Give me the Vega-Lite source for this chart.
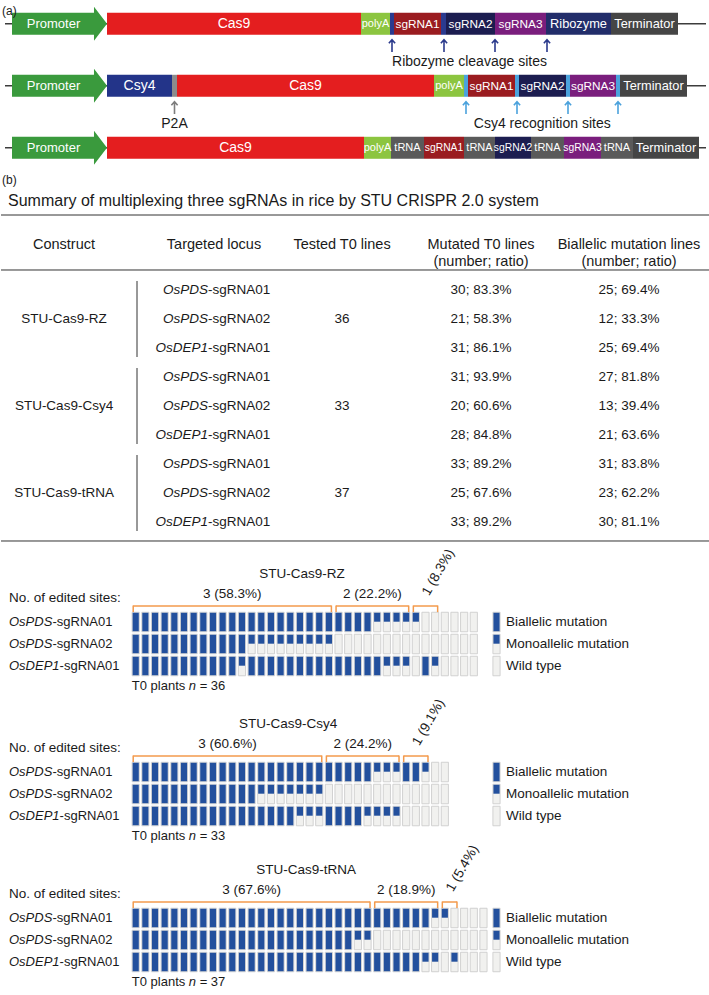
{
"$schema": "https://vega.github.io/schema/vega-lite/v6.json",
"padding": 0,
"spacing": 0,
"bounds": "flush",
"background": "white",
"config": {"view": {"stroke": null}, "text": {"font": "Liberation Sans", "fontSize": 13, "color": "#1a1a1a", "baseline": "middle"}},
"datasets": {
"backbones": [{"construct":1,"start":4,"end":705},{"construct":2,"start":4,"end":705},{"construct":3,"start":4,"end":705}],
"parts": [
{"construct":1,"id":"1-promoter","part":"Promoter","label":"Promoter","start":11,"end":106},
{"construct":1,"id":"1-cas9","part":"Cas9","label":"Cas9","start":106,"end":360},
{"construct":1,"id":"1-polyA","part":"polyA","label":"polyA","start":360,"end":389},
{"construct":1,"id":"1-s1","part":"ribosite","label":"","start":389,"end":393},
{"construct":1,"id":"1-sg1","part":"sgRNA1","label":"sgRNA1","start":393,"end":440},
{"construct":1,"id":"1-s2","part":"ribosite","label":"","start":440,"end":445},
{"construct":1,"id":"1-sg2","part":"sgRNA2","label":"sgRNA2","start":445,"end":494},
{"construct":1,"id":"1-sg3","part":"sgRNA3","label":"sgRNA3","start":494,"end":545},
{"construct":1,"id":"1-rz","part":"Ribozyme","label":"Ribozyme","start":545,"end":610},
{"construct":1,"id":"1-term","part":"Terminator","label":"Terminator","start":610,"end":677},
{"construct":2,"id":"2-promoter","part":"Promoter","label":"Promoter","start":11,"end":106},
{"construct":2,"id":"2-csy4","part":"Csy4","label":"Csy4","start":106,"end":171},
{"construct":2,"id":"2-p2a","part":"P2A","label":"","start":171,"end":176},
{"construct":2,"id":"2-cas9","part":"Cas9","label":"Cas9","start":176,"end":433},
{"construct":2,"id":"2-polyA","part":"polyA","label":"polyA","start":433,"end":463},
{"construct":2,"id":"2-s1","part":"csysite","label":"","start":463,"end":467},
{"construct":2,"id":"2-sg1","part":"sgRNA1","label":"sgRNA1","start":467,"end":514},
{"construct":2,"id":"2-s2","part":"csysite","label":"","start":514,"end":518},
{"construct":2,"id":"2-sg2","part":"sgRNA2","label":"sgRNA2","start":518,"end":565},
{"construct":2,"id":"2-s3","part":"csysite","label":"","start":565,"end":569},
{"construct":2,"id":"2-sg3","part":"sgRNA3","label":"sgRNA3","start":569,"end":615},
{"construct":2,"id":"2-s4","part":"csysite","label":"","start":615,"end":619},
{"construct":2,"id":"2-term","part":"Terminator","label":"Terminator","start":619,"end":686},
{"construct":3,"id":"3-promoter","part":"Promoter","label":"Promoter","start":11,"end":106},
{"construct":3,"id":"3-cas9","part":"Cas9","label":"Cas9","start":106,"end":363},
{"construct":3,"id":"3-polyA","part":"polyA","label":"polyA","start":363,"end":390},
{"construct":3,"id":"3-t1","part":"tRNA","label":"tRNA","start":390,"end":423},
{"construct":3,"id":"3-sg1","part":"sgRNA1","label":"sgRNA1","start":423,"end":463},
{"construct":3,"id":"3-t2","part":"tRNA","label":"tRNA","start":463,"end":494},
{"construct":3,"id":"3-sg2","part":"sgRNA2","label":"sgRNA2","start":494,"end":530},
{"construct":3,"id":"3-t3","part":"tRNA","label":"tRNA","start":530,"end":563},
{"construct":3,"id":"3-sg3","part":"sgRNA3","label":"sgRNA3","start":563,"end":600},
{"construct":3,"id":"3-t4","part":"tRNA","label":"tRNA","start":600,"end":632},
{"construct":3,"id":"3-term","part":"Terminator","label":"Terminator","start":632,"end":698}
],
"sites": [
{"construct":1,"kind":"ribozyme","label":"Ribozyme cleavage sites","pos":391},
{"construct":1,"kind":"ribozyme","label":"Ribozyme cleavage sites","pos":443},
{"construct":1,"kind":"ribozyme","label":"Ribozyme cleavage sites","pos":494},
{"construct":1,"kind":"ribozyme","label":"Ribozyme cleavage sites","pos":546},
{"construct":2,"kind":"csy4","label":"Csy4 recognition sites","pos":465},
{"construct":2,"kind":"csy4","label":"Csy4 recognition sites","pos":516},
{"construct":2,"kind":"csy4","label":"Csy4 recognition sites","pos":567},
{"construct":2,"kind":"csy4","label":"Csy4 recognition sites","pos":617},
{"construct":2,"kind":"p2a","label":"P2A","pos":173.5}
],
"table": [
{"construct":"STU-Cas9-RZ","tested":36,"row":1,"gene":"OsPDS","guide":"-sgRNA01","mutated":"30; 83.3%","biallelic":"25; 69.4%"},
{"construct":"STU-Cas9-RZ","tested":36,"row":2,"gene":"OsPDS","guide":"-sgRNA02","mutated":"21; 58.3%","biallelic":"12; 33.3%"},
{"construct":"STU-Cas9-RZ","tested":36,"row":3,"gene":"OsDEP1","guide":"-sgRNA01","mutated":"31; 86.1%","biallelic":"25; 69.4%"},
{"construct":"STU-Cas9-Csy4","tested":33,"row":4,"gene":"OsPDS","guide":"-sgRNA01","mutated":"31; 93.9%","biallelic":"27; 81.8%"},
{"construct":"STU-Cas9-Csy4","tested":33,"row":5,"gene":"OsPDS","guide":"-sgRNA02","mutated":"20; 60.6%","biallelic":"13; 39.4%"},
{"construct":"STU-Cas9-Csy4","tested":33,"row":6,"gene":"OsDEP1","guide":"-sgRNA01","mutated":"28; 84.8%","biallelic":"21; 63.6%"},
{"construct":"STU-Cas9-tRNA","tested":37,"row":7,"gene":"OsPDS","guide":"-sgRNA01","mutated":"33; 89.2%","biallelic":"31; 83.8%"},
{"construct":"STU-Cas9-tRNA","tested":37,"row":8,"gene":"OsPDS","guide":"-sgRNA02","mutated":"25; 67.6%","biallelic":"23; 62.2%"},
{"construct":"STU-Cas9-tRNA","tested":37,"row":9,"gene":"OsDEP1","guide":"-sgRNA01","mutated":"33; 89.2%","biallelic":"30; 81.1%"}
],
"constructs": [
{"construct":"RZ","title":"STU-Cas9-RZ","plants":36},
{"construct":"Csy4","title":"STU-Cas9-Csy4","plants":33},
{"construct":"tRNA","title":"STU-Cas9-tRNA","plants":37}
],
"loci": [
{"locus":0,"gene":"OsPDS","guide":"-sgRNA01"},
{"locus":1,"gene":"OsPDS","guide":"-sgRNA02"},
{"locus":2,"gene":"OsDEP1","guide":"-sgRNA01"}
],
"legend": [
{"rank":0,"status":"B","label":"Biallelic mutation"},
{"rank":1,"status":"M","label":"Monoallelic mutation"},
{"rank":2,"status":"W","label":"Wild type"}
],
"brackets": [
{"id":"RZ3","construct":"RZ","sites":3,"label":"3 (58.3%)","start":0,"end":20},
{"id":"RZ2","construct":"RZ","sites":2,"label":"2 (22.2%)","start":21,"end":28},
{"id":"RZ1","construct":"RZ","sites":1,"label":"1 (8.3%)","start":29,"end":31},
{"id":"C3","construct":"Csy4","sites":3,"label":"3 (60.6%)","start":0,"end":19},
{"id":"C2","construct":"Csy4","sites":2,"label":"2 (24.2%)","start":20,"end":27},
{"id":"C1","construct":"Csy4","sites":1,"label":"1 (9.1%)","start":28,"end":30},
{"id":"T3","construct":"tRNA","sites":3,"label":"3 (67.6%)","start":0,"end":24},
{"id":"T2","construct":"tRNA","sites":2,"label":"2 (18.9%)","start":25,"end":31},
{"id":"T1","construct":"tRNA","sites":1,"label":"1 (5.4%)","start":32,"end":33}
],
"cells": [
{"construct":"RZ","locus":0,"plant":0,"status":"B"},{"construct":"RZ","locus":0,"plant":1,"status":"B"},{"construct":"RZ","locus":0,"plant":2,"status":"B"},{"construct":"RZ","locus":0,"plant":3,"status":"B"},{"construct":"RZ","locus":0,"plant":4,"status":"B"},{"construct":"RZ","locus":0,"plant":5,"status":"B"},{"construct":"RZ","locus":0,"plant":6,"status":"B"},{"construct":"RZ","locus":0,"plant":7,"status":"B"},{"construct":"RZ","locus":0,"plant":8,"status":"B"},{"construct":"RZ","locus":0,"plant":9,"status":"B"},
{"construct":"RZ","locus":0,"plant":10,"status":"B"},{"construct":"RZ","locus":0,"plant":11,"status":"B"},{"construct":"RZ","locus":0,"plant":12,"status":"B"},{"construct":"RZ","locus":0,"plant":13,"status":"B"},{"construct":"RZ","locus":0,"plant":14,"status":"B"},{"construct":"RZ","locus":0,"plant":15,"status":"B"},{"construct":"RZ","locus":0,"plant":16,"status":"B"},{"construct":"RZ","locus":0,"plant":17,"status":"B"},{"construct":"RZ","locus":0,"plant":18,"status":"B"},{"construct":"RZ","locus":0,"plant":19,"status":"B"},
{"construct":"RZ","locus":0,"plant":20,"status":"B"},{"construct":"RZ","locus":0,"plant":21,"status":"B"},{"construct":"RZ","locus":0,"plant":22,"status":"B"},{"construct":"RZ","locus":0,"plant":23,"status":"B"},{"construct":"RZ","locus":0,"plant":24,"status":"B"},{"construct":"RZ","locus":0,"plant":25,"status":"M"},{"construct":"RZ","locus":0,"plant":26,"status":"M"},{"construct":"RZ","locus":0,"plant":27,"status":"M"},{"construct":"RZ","locus":0,"plant":28,"status":"M"},{"construct":"RZ","locus":0,"plant":29,"status":"M"},
{"construct":"RZ","locus":0,"plant":30,"status":"W"},{"construct":"RZ","locus":0,"plant":31,"status":"W"},{"construct":"RZ","locus":0,"plant":32,"status":"W"},{"construct":"RZ","locus":0,"plant":33,"status":"W"},{"construct":"RZ","locus":0,"plant":34,"status":"W"},{"construct":"RZ","locus":0,"plant":35,"status":"W"},
{"construct":"RZ","locus":1,"plant":0,"status":"B"},{"construct":"RZ","locus":1,"plant":1,"status":"B"},{"construct":"RZ","locus":1,"plant":2,"status":"B"},{"construct":"RZ","locus":1,"plant":3,"status":"B"},{"construct":"RZ","locus":1,"plant":4,"status":"B"},{"construct":"RZ","locus":1,"plant":5,"status":"B"},{"construct":"RZ","locus":1,"plant":6,"status":"B"},{"construct":"RZ","locus":1,"plant":7,"status":"B"},{"construct":"RZ","locus":1,"plant":8,"status":"B"},{"construct":"RZ","locus":1,"plant":9,"status":"B"},
{"construct":"RZ","locus":1,"plant":10,"status":"B"},{"construct":"RZ","locus":1,"plant":11,"status":"B"},{"construct":"RZ","locus":1,"plant":12,"status":"M"},{"construct":"RZ","locus":1,"plant":13,"status":"M"},{"construct":"RZ","locus":1,"plant":14,"status":"M"},{"construct":"RZ","locus":1,"plant":15,"status":"M"},{"construct":"RZ","locus":1,"plant":16,"status":"M"},{"construct":"RZ","locus":1,"plant":17,"status":"M"},{"construct":"RZ","locus":1,"plant":18,"status":"M"},{"construct":"RZ","locus":1,"plant":19,"status":"M"},
{"construct":"RZ","locus":1,"plant":20,"status":"M"},{"construct":"RZ","locus":1,"plant":21,"status":"W"},{"construct":"RZ","locus":1,"plant":22,"status":"W"},{"construct":"RZ","locus":1,"plant":23,"status":"W"},{"construct":"RZ","locus":1,"plant":24,"status":"W"},{"construct":"RZ","locus":1,"plant":25,"status":"W"},{"construct":"RZ","locus":1,"plant":26,"status":"W"},{"construct":"RZ","locus":1,"plant":27,"status":"W"},{"construct":"RZ","locus":1,"plant":28,"status":"W"},{"construct":"RZ","locus":1,"plant":29,"status":"W"},
{"construct":"RZ","locus":1,"plant":30,"status":"W"},{"construct":"RZ","locus":1,"plant":31,"status":"W"},{"construct":"RZ","locus":1,"plant":32,"status":"W"},{"construct":"RZ","locus":1,"plant":33,"status":"W"},{"construct":"RZ","locus":1,"plant":34,"status":"W"},{"construct":"RZ","locus":1,"plant":35,"status":"W"},
{"construct":"RZ","locus":2,"plant":0,"status":"B"},{"construct":"RZ","locus":2,"plant":1,"status":"B"},{"construct":"RZ","locus":2,"plant":2,"status":"B"},{"construct":"RZ","locus":2,"plant":3,"status":"B"},{"construct":"RZ","locus":2,"plant":4,"status":"B"},{"construct":"RZ","locus":2,"plant":5,"status":"B"},{"construct":"RZ","locus":2,"plant":6,"status":"B"},{"construct":"RZ","locus":2,"plant":7,"status":"B"},{"construct":"RZ","locus":2,"plant":8,"status":"B"},{"construct":"RZ","locus":2,"plant":9,"status":"B"},
{"construct":"RZ","locus":2,"plant":10,"status":"B"},{"construct":"RZ","locus":2,"plant":11,"status":"M"},{"construct":"RZ","locus":2,"plant":12,"status":"B"},{"construct":"RZ","locus":2,"plant":13,"status":"B"},{"construct":"RZ","locus":2,"plant":14,"status":"B"},{"construct":"RZ","locus":2,"plant":15,"status":"B"},{"construct":"RZ","locus":2,"plant":16,"status":"B"},{"construct":"RZ","locus":2,"plant":17,"status":"B"},{"construct":"RZ","locus":2,"plant":18,"status":"B"},{"construct":"RZ","locus":2,"plant":19,"status":"B"},
{"construct":"RZ","locus":2,"plant":20,"status":"B"},{"construct":"RZ","locus":2,"plant":21,"status":"B"},{"construct":"RZ","locus":2,"plant":22,"status":"B"},{"construct":"RZ","locus":2,"plant":23,"status":"B"},{"construct":"RZ","locus":2,"plant":24,"status":"B"},{"construct":"RZ","locus":2,"plant":25,"status":"B"},{"construct":"RZ","locus":2,"plant":26,"status":"M"},{"construct":"RZ","locus":2,"plant":27,"status":"M"},{"construct":"RZ","locus":2,"plant":28,"status":"M"},{"construct":"RZ","locus":2,"plant":29,"status":"W"},
{"construct":"RZ","locus":2,"plant":30,"status":"B"},{"construct":"RZ","locus":2,"plant":31,"status":"M"},{"construct":"RZ","locus":2,"plant":32,"status":"W"},{"construct":"RZ","locus":2,"plant":33,"status":"W"},{"construct":"RZ","locus":2,"plant":34,"status":"W"},{"construct":"RZ","locus":2,"plant":35,"status":"W"},
{"construct":"Csy4","locus":0,"plant":0,"status":"B"},{"construct":"Csy4","locus":0,"plant":1,"status":"B"},{"construct":"Csy4","locus":0,"plant":2,"status":"B"},{"construct":"Csy4","locus":0,"plant":3,"status":"B"},{"construct":"Csy4","locus":0,"plant":4,"status":"B"},{"construct":"Csy4","locus":0,"plant":5,"status":"B"},{"construct":"Csy4","locus":0,"plant":6,"status":"B"},{"construct":"Csy4","locus":0,"plant":7,"status":"B"},{"construct":"Csy4","locus":0,"plant":8,"status":"B"},{"construct":"Csy4","locus":0,"plant":9,"status":"B"},
{"construct":"Csy4","locus":0,"plant":10,"status":"B"},{"construct":"Csy4","locus":0,"plant":11,"status":"B"},{"construct":"Csy4","locus":0,"plant":12,"status":"B"},{"construct":"Csy4","locus":0,"plant":13,"status":"B"},{"construct":"Csy4","locus":0,"plant":14,"status":"B"},{"construct":"Csy4","locus":0,"plant":15,"status":"B"},{"construct":"Csy4","locus":0,"plant":16,"status":"B"},{"construct":"Csy4","locus":0,"plant":17,"status":"B"},{"construct":"Csy4","locus":0,"plant":18,"status":"B"},{"construct":"Csy4","locus":0,"plant":19,"status":"B"},
{"construct":"Csy4","locus":0,"plant":20,"status":"B"},{"construct":"Csy4","locus":0,"plant":21,"status":"B"},{"construct":"Csy4","locus":0,"plant":22,"status":"B"},{"construct":"Csy4","locus":0,"plant":23,"status":"B"},{"construct":"Csy4","locus":0,"plant":24,"status":"B"},{"construct":"Csy4","locus":0,"plant":25,"status":"M"},{"construct":"Csy4","locus":0,"plant":26,"status":"M"},{"construct":"Csy4","locus":0,"plant":27,"status":"M"},{"construct":"Csy4","locus":0,"plant":28,"status":"B"},{"construct":"Csy4","locus":0,"plant":29,"status":"B"},
{"construct":"Csy4","locus":0,"plant":30,"status":"M"},{"construct":"Csy4","locus":0,"plant":31,"status":"W"},{"construct":"Csy4","locus":0,"plant":32,"status":"W"},
{"construct":"Csy4","locus":1,"plant":0,"status":"B"},{"construct":"Csy4","locus":1,"plant":1,"status":"B"},{"construct":"Csy4","locus":1,"plant":2,"status":"B"},{"construct":"Csy4","locus":1,"plant":3,"status":"B"},{"construct":"Csy4","locus":1,"plant":4,"status":"B"},{"construct":"Csy4","locus":1,"plant":5,"status":"B"},{"construct":"Csy4","locus":1,"plant":6,"status":"B"},{"construct":"Csy4","locus":1,"plant":7,"status":"B"},{"construct":"Csy4","locus":1,"plant":8,"status":"B"},{"construct":"Csy4","locus":1,"plant":9,"status":"B"},
{"construct":"Csy4","locus":1,"plant":10,"status":"B"},{"construct":"Csy4","locus":1,"plant":11,"status":"B"},{"construct":"Csy4","locus":1,"plant":12,"status":"B"},{"construct":"Csy4","locus":1,"plant":13,"status":"M"},{"construct":"Csy4","locus":1,"plant":14,"status":"M"},{"construct":"Csy4","locus":1,"plant":15,"status":"M"},{"construct":"Csy4","locus":1,"plant":16,"status":"M"},{"construct":"Csy4","locus":1,"plant":17,"status":"M"},{"construct":"Csy4","locus":1,"plant":18,"status":"M"},{"construct":"Csy4","locus":1,"plant":19,"status":"M"},
{"construct":"Csy4","locus":1,"plant":20,"status":"W"},{"construct":"Csy4","locus":1,"plant":21,"status":"W"},{"construct":"Csy4","locus":1,"plant":22,"status":"W"},{"construct":"Csy4","locus":1,"plant":23,"status":"W"},{"construct":"Csy4","locus":1,"plant":24,"status":"W"},{"construct":"Csy4","locus":1,"plant":25,"status":"W"},{"construct":"Csy4","locus":1,"plant":26,"status":"W"},{"construct":"Csy4","locus":1,"plant":27,"status":"W"},{"construct":"Csy4","locus":1,"plant":28,"status":"W"},{"construct":"Csy4","locus":1,"plant":29,"status":"W"},
{"construct":"Csy4","locus":1,"plant":30,"status":"W"},{"construct":"Csy4","locus":1,"plant":31,"status":"W"},{"construct":"Csy4","locus":1,"plant":32,"status":"W"},
{"construct":"Csy4","locus":2,"plant":0,"status":"B"},{"construct":"Csy4","locus":2,"plant":1,"status":"B"},{"construct":"Csy4","locus":2,"plant":2,"status":"B"},{"construct":"Csy4","locus":2,"plant":3,"status":"B"},{"construct":"Csy4","locus":2,"plant":4,"status":"B"},{"construct":"Csy4","locus":2,"plant":5,"status":"B"},{"construct":"Csy4","locus":2,"plant":6,"status":"B"},{"construct":"Csy4","locus":2,"plant":7,"status":"B"},{"construct":"Csy4","locus":2,"plant":8,"status":"B"},{"construct":"Csy4","locus":2,"plant":9,"status":"B"},
{"construct":"Csy4","locus":2,"plant":10,"status":"B"},{"construct":"Csy4","locus":2,"plant":11,"status":"B"},{"construct":"Csy4","locus":2,"plant":12,"status":"B"},{"construct":"Csy4","locus":2,"plant":13,"status":"B"},{"construct":"Csy4","locus":2,"plant":14,"status":"B"},{"construct":"Csy4","locus":2,"plant":15,"status":"B"},{"construct":"Csy4","locus":2,"plant":16,"status":"B"},{"construct":"Csy4","locus":2,"plant":17,"status":"M"},{"construct":"Csy4","locus":2,"plant":18,"status":"M"},{"construct":"Csy4","locus":2,"plant":19,"status":"M"},
{"construct":"Csy4","locus":2,"plant":20,"status":"B"},{"construct":"Csy4","locus":2,"plant":21,"status":"B"},{"construct":"Csy4","locus":2,"plant":22,"status":"B"},{"construct":"Csy4","locus":2,"plant":23,"status":"B"},{"construct":"Csy4","locus":2,"plant":24,"status":"M"},{"construct":"Csy4","locus":2,"plant":25,"status":"M"},{"construct":"Csy4","locus":2,"plant":26,"status":"M"},{"construct":"Csy4","locus":2,"plant":27,"status":"M"},{"construct":"Csy4","locus":2,"plant":28,"status":"W"},{"construct":"Csy4","locus":2,"plant":29,"status":"W"},
{"construct":"Csy4","locus":2,"plant":30,"status":"W"},{"construct":"Csy4","locus":2,"plant":31,"status":"W"},{"construct":"Csy4","locus":2,"plant":32,"status":"W"},
{"construct":"tRNA","locus":0,"plant":0,"status":"B"},{"construct":"tRNA","locus":0,"plant":1,"status":"B"},{"construct":"tRNA","locus":0,"plant":2,"status":"B"},{"construct":"tRNA","locus":0,"plant":3,"status":"B"},{"construct":"tRNA","locus":0,"plant":4,"status":"B"},{"construct":"tRNA","locus":0,"plant":5,"status":"B"},{"construct":"tRNA","locus":0,"plant":6,"status":"B"},{"construct":"tRNA","locus":0,"plant":7,"status":"B"},{"construct":"tRNA","locus":0,"plant":8,"status":"B"},{"construct":"tRNA","locus":0,"plant":9,"status":"B"},
{"construct":"tRNA","locus":0,"plant":10,"status":"B"},{"construct":"tRNA","locus":0,"plant":11,"status":"B"},{"construct":"tRNA","locus":0,"plant":12,"status":"B"},{"construct":"tRNA","locus":0,"plant":13,"status":"B"},{"construct":"tRNA","locus":0,"plant":14,"status":"B"},{"construct":"tRNA","locus":0,"plant":15,"status":"B"},{"construct":"tRNA","locus":0,"plant":16,"status":"B"},{"construct":"tRNA","locus":0,"plant":17,"status":"B"},{"construct":"tRNA","locus":0,"plant":18,"status":"B"},{"construct":"tRNA","locus":0,"plant":19,"status":"B"},
{"construct":"tRNA","locus":0,"plant":20,"status":"B"},{"construct":"tRNA","locus":0,"plant":21,"status":"B"},{"construct":"tRNA","locus":0,"plant":22,"status":"B"},{"construct":"tRNA","locus":0,"plant":23,"status":"B"},{"construct":"tRNA","locus":0,"plant":24,"status":"B"},{"construct":"tRNA","locus":0,"plant":25,"status":"B"},{"construct":"tRNA","locus":0,"plant":26,"status":"B"},{"construct":"tRNA","locus":0,"plant":27,"status":"B"},{"construct":"tRNA","locus":0,"plant":28,"status":"B"},{"construct":"tRNA","locus":0,"plant":29,"status":"B"},
{"construct":"tRNA","locus":0,"plant":30,"status":"B"},{"construct":"tRNA","locus":0,"plant":31,"status":"M"},{"construct":"tRNA","locus":0,"plant":32,"status":"M"},{"construct":"tRNA","locus":0,"plant":33,"status":"W"},{"construct":"tRNA","locus":0,"plant":34,"status":"W"},{"construct":"tRNA","locus":0,"plant":35,"status":"W"},{"construct":"tRNA","locus":0,"plant":36,"status":"W"},
{"construct":"tRNA","locus":1,"plant":0,"status":"B"},{"construct":"tRNA","locus":1,"plant":1,"status":"B"},{"construct":"tRNA","locus":1,"plant":2,"status":"B"},{"construct":"tRNA","locus":1,"plant":3,"status":"B"},{"construct":"tRNA","locus":1,"plant":4,"status":"B"},{"construct":"tRNA","locus":1,"plant":5,"status":"B"},{"construct":"tRNA","locus":1,"plant":6,"status":"B"},{"construct":"tRNA","locus":1,"plant":7,"status":"B"},{"construct":"tRNA","locus":1,"plant":8,"status":"B"},{"construct":"tRNA","locus":1,"plant":9,"status":"B"},
{"construct":"tRNA","locus":1,"plant":10,"status":"B"},{"construct":"tRNA","locus":1,"plant":11,"status":"B"},{"construct":"tRNA","locus":1,"plant":12,"status":"B"},{"construct":"tRNA","locus":1,"plant":13,"status":"B"},{"construct":"tRNA","locus":1,"plant":14,"status":"B"},{"construct":"tRNA","locus":1,"plant":15,"status":"B"},{"construct":"tRNA","locus":1,"plant":16,"status":"B"},{"construct":"tRNA","locus":1,"plant":17,"status":"B"},{"construct":"tRNA","locus":1,"plant":18,"status":"B"},{"construct":"tRNA","locus":1,"plant":19,"status":"B"},
{"construct":"tRNA","locus":1,"plant":20,"status":"B"},{"construct":"tRNA","locus":1,"plant":21,"status":"B"},{"construct":"tRNA","locus":1,"plant":22,"status":"B"},{"construct":"tRNA","locus":1,"plant":23,"status":"M"},{"construct":"tRNA","locus":1,"plant":24,"status":"M"},{"construct":"tRNA","locus":1,"plant":25,"status":"W"},{"construct":"tRNA","locus":1,"plant":26,"status":"W"},{"construct":"tRNA","locus":1,"plant":27,"status":"W"},{"construct":"tRNA","locus":1,"plant":28,"status":"W"},{"construct":"tRNA","locus":1,"plant":29,"status":"W"},
{"construct":"tRNA","locus":1,"plant":30,"status":"W"},{"construct":"tRNA","locus":1,"plant":31,"status":"W"},{"construct":"tRNA","locus":1,"plant":32,"status":"W"},{"construct":"tRNA","locus":1,"plant":33,"status":"W"},{"construct":"tRNA","locus":1,"plant":34,"status":"W"},{"construct":"tRNA","locus":1,"plant":35,"status":"W"},{"construct":"tRNA","locus":1,"plant":36,"status":"W"},
{"construct":"tRNA","locus":2,"plant":0,"status":"B"},{"construct":"tRNA","locus":2,"plant":1,"status":"B"},{"construct":"tRNA","locus":2,"plant":2,"status":"B"},{"construct":"tRNA","locus":2,"plant":3,"status":"B"},{"construct":"tRNA","locus":2,"plant":4,"status":"B"},{"construct":"tRNA","locus":2,"plant":5,"status":"B"},{"construct":"tRNA","locus":2,"plant":6,"status":"B"},{"construct":"tRNA","locus":2,"plant":7,"status":"B"},{"construct":"tRNA","locus":2,"plant":8,"status":"B"},{"construct":"tRNA","locus":2,"plant":9,"status":"B"},
{"construct":"tRNA","locus":2,"plant":10,"status":"B"},{"construct":"tRNA","locus":2,"plant":11,"status":"B"},{"construct":"tRNA","locus":2,"plant":12,"status":"B"},{"construct":"tRNA","locus":2,"plant":13,"status":"B"},{"construct":"tRNA","locus":2,"plant":14,"status":"B"},{"construct":"tRNA","locus":2,"plant":15,"status":"B"},{"construct":"tRNA","locus":2,"plant":16,"status":"B"},{"construct":"tRNA","locus":2,"plant":17,"status":"B"},{"construct":"tRNA","locus":2,"plant":18,"status":"B"},{"construct":"tRNA","locus":2,"plant":19,"status":"B"},
{"construct":"tRNA","locus":2,"plant":20,"status":"B"},{"construct":"tRNA","locus":2,"plant":21,"status":"B"},{"construct":"tRNA","locus":2,"plant":22,"status":"B"},{"construct":"tRNA","locus":2,"plant":23,"status":"B"},{"construct":"tRNA","locus":2,"plant":24,"status":"B"},{"construct":"tRNA","locus":2,"plant":25,"status":"B"},{"construct":"tRNA","locus":2,"plant":26,"status":"B"},{"construct":"tRNA","locus":2,"plant":27,"status":"B"},{"construct":"tRNA","locus":2,"plant":28,"status":"B"},{"construct":"tRNA","locus":2,"plant":29,"status":"B"},
{"construct":"tRNA","locus":2,"plant":30,"status":"M"},{"construct":"tRNA","locus":2,"plant":31,"status":"M"},{"construct":"tRNA","locus":2,"plant":32,"status":"W"},{"construct":"tRNA","locus":2,"plant":33,"status":"M"},{"construct":"tRNA","locus":2,"plant":34,"status":"W"},{"construct":"tRNA","locus":2,"plant":35,"status":"W"},{"construct":"tRNA","locus":2,"plant":36,"status":"W"}
]
},
"vconcat": [
{
"width": 709, "height": 165,
"layer": [
{"data": {"name": "backbones"}, "mark": {"type": "rule", "stroke": "#3c3c3c", "strokeWidth": 1.5},
 "encoding": {"x": {"field": "start", "type": "quantitative", "scale": {"domain": [0, 709], "nice": false, "zero": false}, "axis": null}, "x2": {"field": "end"},
  "y": {"field": "construct", "type": "quantitative", "scale": {"domain": [0.697, 3.197], "nice": false, "zero": false, "reverse": true}, "axis": null}}},
{"data": {"name": "parts"}, "transform": [{"filter": "datum.part !== 'Promoter'"}], "mark": {"type": "bar", "orient": "horizontal", "height": 22},
 "encoding": {"x": {"field": "start", "type": "quantitative", "scale": {"domain": [0, 709], "nice": false, "zero": false}, "axis": null}, "x2": {"field": "end"},
  "y": {"field": "construct", "type": "quantitative", "scale": {"domain": [0.697, 3.197], "nice": false, "zero": false, "reverse": true}, "axis": null},
  "color": {"field": "part", "type": "nominal", "legend": null, "scale": {"domain": ["Cas9","Csy4","P2A","polyA","sgRNA1","sgRNA2","sgRNA3","Ribozyme","ribosite","csysite","tRNA","Terminator"], "range": ["#e41e1f","#233489","#8c8c8c","#8cc540","#9a1c20","#1c1d50","#7a1e7d","#222d6a","#2a3a8f","#4ba2dc","#5a5a5a","#454545"]}}}},
{"data": {"name": "parts"}, "transform": [{"filter": "datum.part === 'Promoter'"}, {"fold": ["start", "end"], "as": ["edge", "pos"]}],
 "mark": {"type": "point", "filled": true, "opacity": 1, "fill": "#3a9a3d", "strokeWidth": 0, "size": 9025, "shape": "M -1 -0.2316 L 0.726 -0.2316 L 0.726 -0.358 L 1 0 L 0.726 0.358 L 0.726 0.2316 L -1 0.2316 Z"},
 "encoding": {"x": {"field": "pos", "aggregate": "mean", "type": "quantitative", "scale": {"domain": [0, 709], "nice": false, "zero": false}, "axis": null},
  "y": {"field": "construct", "type": "quantitative", "scale": {"domain": [0.697, 3.197], "nice": false, "zero": false, "reverse": true}, "axis": null},
  "detail": {"field": "id"}}},
{"data": {"name": "parts"}, "transform": [{"filter": "datum.part === 'Promoter'"}, {"fold": ["start", "end"], "as": ["edge", "pos"]}],
 "mark": {"type": "text", "color": "white", "fontSize": 13, "dx": -6},
 "encoding": {"x": {"field": "pos", "aggregate": "mean", "type": "quantitative", "scale": {"domain": [0, 709], "nice": false, "zero": false}, "axis": null},
  "y": {"field": "construct", "type": "quantitative", "scale": {"domain": [0.697, 3.197], "nice": false, "zero": false, "reverse": true}, "axis": null},
  "text": {"field": "label"}, "detail": {"field": "id"}}},
{"data": {"name": "parts"}, "transform": [{"filter": "datum.part === 'Cas9' || datum.part === 'Csy4'"}, {"fold": ["start", "end"], "as": ["edge", "pos"]}],
 "mark": {"type": "text", "color": "white", "fontSize": 14},
 "encoding": {"x": {"field": "pos", "aggregate": "mean", "type": "quantitative", "scale": {"domain": [0, 709], "nice": false, "zero": false}, "axis": null},
  "y": {"field": "construct", "type": "quantitative", "scale": {"domain": [0.697, 3.197], "nice": false, "zero": false, "reverse": true}, "axis": null},
  "text": {"field": "label"}, "detail": {"field": "id"}}},
{"data": {"name": "parts"}, "transform": [{"filter": "datum.part === 'Ribozyme' || datum.part === 'Terminator'"}, {"fold": ["start", "end"], "as": ["edge", "pos"]}],
 "mark": {"type": "text", "color": "white", "fontSize": 12.8},
 "encoding": {"x": {"field": "pos", "aggregate": "mean", "type": "quantitative", "scale": {"domain": [0, 709], "nice": false, "zero": false}, "axis": null},
  "y": {"field": "construct", "type": "quantitative", "scale": {"domain": [0.697, 3.197], "nice": false, "zero": false, "reverse": true}, "axis": null},
  "text": {"field": "label"}, "detail": {"field": "id"}}},
{"data": {"name": "parts"}, "transform": [{"filter": "indexof(datum.part, 'sgRNA') === 0 && datum.end - datum.start >= 44"}, {"fold": ["start", "end"], "as": ["edge", "pos"]}],
 "mark": {"type": "text", "color": "white", "fontSize": 11.8},
 "encoding": {"x": {"field": "pos", "aggregate": "mean", "type": "quantitative", "scale": {"domain": [0, 709], "nice": false, "zero": false}, "axis": null},
  "y": {"field": "construct", "type": "quantitative", "scale": {"domain": [0.697, 3.197], "nice": false, "zero": false, "reverse": true}, "axis": null},
  "text": {"field": "label"}, "detail": {"field": "id"}}},
{"data": {"name": "parts"}, "transform": [{"filter": "indexof(datum.part, 'sgRNA') === 0 && datum.end - datum.start < 44"}, {"fold": ["start", "end"], "as": ["edge", "pos"]}],
 "mark": {"type": "text", "color": "white", "fontSize": 10.3},
 "encoding": {"x": {"field": "pos", "aggregate": "mean", "type": "quantitative", "scale": {"domain": [0, 709], "nice": false, "zero": false}, "axis": null},
  "y": {"field": "construct", "type": "quantitative", "scale": {"domain": [0.697, 3.197], "nice": false, "zero": false, "reverse": true}, "axis": null},
  "text": {"field": "label"}, "detail": {"field": "id"}}},
{"data": {"name": "parts"}, "transform": [{"filter": "datum.part === 'tRNA' || datum.part === 'polyA'"}, {"fold": ["start", "end"], "as": ["edge", "pos"]}],
 "mark": {"type": "text", "color": "white", "fontSize": 11},
 "encoding": {"x": {"field": "pos", "aggregate": "mean", "type": "quantitative", "scale": {"domain": [0, 709], "nice": false, "zero": false}, "axis": null},
  "y": {"field": "construct", "type": "quantitative", "scale": {"domain": [0.697, 3.197], "nice": false, "zero": false, "reverse": true}, "axis": null},
  "text": {"field": "label"}, "detail": {"field": "id"}}},
{"data": {"name": "sites"}, "mark": {"type": "point", "filled": false, "opacity": 1, "strokeWidth": 1.6, "size": 156, "yOffset": 22, "shape": "M 0 1 L 0 -0.95 M -0.5 -0.4 L 0 -0.98 L 0.5 -0.4"},
 "encoding": {"x": {"field": "pos", "type": "quantitative", "scale": {"domain": [0, 709], "nice": false, "zero": false}, "axis": null},
  "y": {"field": "construct", "type": "quantitative", "scale": {"domain": [0.697, 3.197], "nice": false, "zero": false, "reverse": true}, "axis": null},
  "stroke": {"field": "kind", "type": "nominal", "legend": null, "scale": {"domain": ["ribozyme", "csy4", "p2a"], "range": ["#2b3a8c", "#4ba2dc", "#7d7d7d"]}}}},
{"data": {"name": "sites"}, "mark": {"type": "text", "fontSize": 14, "dy": 38.5, "color": "#1a1a1a"},
 "encoding": {"x": {"field": "pos", "aggregate": "mean", "type": "quantitative", "scale": {"domain": [0, 709], "nice": false, "zero": false}, "axis": null},
  "y": {"field": "construct", "type": "quantitative", "scale": {"domain": [0.697, 3.197], "nice": false, "zero": false, "reverse": true}, "axis": null},
  "text": {"field": "label"}}},
{"data": {"values": [{}]}, "mark": {"type": "text", "text": "(a)", "fontSize": 12, "align": "left"},
 "encoding": {"x": {"datum": 1, "type": "quantitative", "scale": {"domain": [0, 709], "nice": false, "zero": false}, "axis": null},
  "y": {"datum": 0.8, "type": "quantitative", "scale": {"domain": [0.697, 3.197], "nice": false, "zero": false, "reverse": true}, "axis": null}}}
]
},
{
"width": 709, "height": 382,
"layer": [
{"data": {"values": [{}]}, "mark": {"type": "rule", "stroke": "#333333", "strokeWidth": 1},
 "encoding": {"y": {"datum": -1.586, "type": "quantitative", "scale": {"domain": [-3.3103, 9.862], "nice": false, "zero": false, "reverse": true}, "axis": null}}},
{"data": {"values": [{}]}, "mark": {"type": "rule", "stroke": "#333333", "strokeWidth": 1},
 "encoding": {"y": {"datum": 0.31, "type": "quantitative", "scale": {"domain": [-3.3103, 9.862], "nice": false, "zero": false, "reverse": true}, "axis": null}}},
{"data": {"values": [{}]}, "mark": {"type": "rule", "stroke": "#333333", "strokeWidth": 1},
 "encoding": {"y": {"datum": 9.655, "type": "quantitative", "scale": {"domain": [-3.3103, 9.862], "nice": false, "zero": false, "reverse": true}, "axis": null}}},
{"data": {"values": [{}]}, "mark": {"type": "text", "text": "(b)", "fontSize": 12, "align": "left"},
 "encoding": {"x": {"datum": 1, "type": "quantitative", "scale": {"domain": [0, 709], "nice": false, "zero": false}, "axis": null},
  "y": {"datum": -2.793, "type": "quantitative", "scale": {"domain": [-3.3103, 9.862], "nice": false, "zero": false, "reverse": true}, "axis": null}}},
{"data": {"values": [{}]}, "mark": {"type": "text", "text": "Summary of multiplexing three sgRNAs in rice by STU CRISPR 2.0 system", "fontSize": 16, "align": "left"},
 "encoding": {"x": {"datum": 7, "type": "quantitative", "scale": {"domain": [0, 709], "nice": false, "zero": false}, "axis": null},
  "y": {"datum": -2.069, "type": "quantitative", "scale": {"domain": [-3.3103, 9.862], "nice": false, "zero": false, "reverse": true}, "axis": null}}},
{"data": {"values": [{}]}, "mark": {"type": "text", "text": "Construct", "fontSize": 14.5},
 "encoding": {"x": {"datum": 63, "type": "quantitative", "scale": {"domain": [0, 709], "nice": false, "zero": false}, "axis": null},
  "y": {"datum": -0.552, "type": "quantitative", "scale": {"domain": [-3.3103, 9.862], "nice": false, "zero": false, "reverse": true}, "axis": null}}},
{"data": {"values": [{}]}, "mark": {"type": "text", "text": "Targeted locus", "fontSize": 14.5},
 "encoding": {"x": {"datum": 213, "type": "quantitative", "scale": {"domain": [0, 709], "nice": false, "zero": false}, "axis": null},
  "y": {"datum": -0.552, "type": "quantitative", "scale": {"domain": [-3.3103, 9.862], "nice": false, "zero": false, "reverse": true}, "axis": null}}},
{"data": {"values": [{}]}, "mark": {"type": "text", "text": "Tested T0 lines", "fontSize": 14.5},
 "encoding": {"x": {"datum": 341, "type": "quantitative", "scale": {"domain": [0, 709], "nice": false, "zero": false}, "axis": null},
  "y": {"datum": -0.552, "type": "quantitative", "scale": {"domain": [-3.3103, 9.862], "nice": false, "zero": false, "reverse": true}, "axis": null}}},
{"data": {"values": [{}]}, "mark": {"type": "text", "text": ["Mutated T0 lines", "(number; ratio)"], "lineHeight": 17, "fontSize": 14.5},
 "encoding": {"x": {"datum": 480, "type": "quantitative", "scale": {"domain": [0, 709], "nice": false, "zero": false}, "axis": null},
  "y": {"datum": -0.552, "type": "quantitative", "scale": {"domain": [-3.3103, 9.862], "nice": false, "zero": false, "reverse": true}, "axis": null}}},
{"data": {"values": [{}]}, "mark": {"type": "text", "text": ["Biallelic mutation lines", "(number; ratio)"], "lineHeight": 17, "fontSize": 14.5},
 "encoding": {"x": {"datum": 628, "type": "quantitative", "scale": {"domain": [0, 709], "nice": false, "zero": false}, "axis": null},
  "y": {"datum": -0.552, "type": "quantitative", "scale": {"domain": [-3.3103, 9.862], "nice": false, "zero": false, "reverse": true}, "axis": null}}},
{"data": {"name": "table"}, "mark": {"type": "text", "fontSize": 13.5},
 "encoding": {"x": {"datum": 63, "type": "quantitative", "scale": {"domain": [0, 709], "nice": false, "zero": false}, "axis": null},
  "y": {"field": "row", "aggregate": "mean", "type": "quantitative", "scale": {"domain": [-3.3103, 9.862], "nice": false, "zero": false, "reverse": true}, "axis": null},
  "text": {"field": "construct"}}},
{"data": {"name": "table"}, "mark": {"type": "text", "fontSize": 13.5},
 "encoding": {"x": {"datum": 341, "type": "quantitative", "scale": {"domain": [0, 709], "nice": false, "zero": false}, "axis": null},
  "y": {"field": "row", "aggregate": "mean", "type": "quantitative", "scale": {"domain": [-3.3103, 9.862], "nice": false, "zero": false, "reverse": true}, "axis": null},
  "text": {"field": "tested", "type": "quantitative"}, "detail": {"field": "construct"}}},
{"data": {"name": "table"}, "mark": {"type": "rule", "stroke": "#333333", "strokeWidth": 1, "yOffset": -9, "y2Offset": 9},
 "encoding": {"x": {"datum": 136, "type": "quantitative", "scale": {"domain": [0, 709], "nice": false, "zero": false}, "axis": null},
  "y": {"field": "row", "aggregate": "min", "type": "quantitative", "scale": {"domain": [-3.3103, 9.862], "nice": false, "zero": false, "reverse": true}, "axis": null},
  "y2": {"field": "row", "aggregate": "max"}, "detail": {"field": "construct"}}},
{"data": {"name": "table"}, "mark": {"type": "text", "fontStyle": "italic", "align": "right", "fontSize": 13.5},
 "encoding": {"x": {"datum": 207, "type": "quantitative", "scale": {"domain": [0, 709], "nice": false, "zero": false}, "axis": null},
  "y": {"field": "row", "type": "quantitative", "scale": {"domain": [-3.3103, 9.862], "nice": false, "zero": false, "reverse": true}, "axis": null},
  "text": {"field": "gene"}}},
{"data": {"name": "table"}, "mark": {"type": "text", "align": "left", "fontSize": 13.5},
 "encoding": {"x": {"datum": 207, "type": "quantitative", "scale": {"domain": [0, 709], "nice": false, "zero": false}, "axis": null},
  "y": {"field": "row", "type": "quantitative", "scale": {"domain": [-3.3103, 9.862], "nice": false, "zero": false, "reverse": true}, "axis": null},
  "text": {"field": "guide"}}},
{"data": {"name": "table"}, "mark": {"type": "text", "fontSize": 13.5},
 "encoding": {"x": {"datum": 480, "type": "quantitative", "scale": {"domain": [0, 709], "nice": false, "zero": false}, "axis": null},
  "y": {"field": "row", "type": "quantitative", "scale": {"domain": [-3.3103, 9.862], "nice": false, "zero": false, "reverse": true}, "axis": null},
  "text": {"field": "mutated"}}},
{"data": {"name": "table"}, "mark": {"type": "text", "fontSize": 13.5},
 "encoding": {"x": {"datum": 628, "type": "quantitative", "scale": {"domain": [0, 709], "nice": false, "zero": false}, "axis": null},
  "y": {"field": "row", "type": "quantitative", "scale": {"domain": [-3.3103, 9.862], "nice": false, "zero": false, "reverse": true}, "axis": null},
  "text": {"field": "biallelic"}}}
]
},
{
"width": 709, "height": 150,
"layer": [
{"data": {"name": "cells"}, "transform": [{"filter": "datum.construct === 'RZ'"}], "mark": {"type": "point", "filled": true, "opacity": 1, "fill": "#f1f1ef", "stroke": "#cdcdcd", "strokeWidth": 0.9, "size": 400, "shape": "M -0.36 -0.975 L 0.36 -0.975 L 0.36 0.975 L -0.36 0.975 Z"},
 "encoding": {"x": {"field": "plant", "type": "quantitative", "scale": {"domain": [-13.944, 59.451], "nice": false, "zero": false}, "axis": null}, "y": {"field": "locus", "type": "quantitative", "scale": {"domain": [-3.409, 3.409], "nice": false, "zero": false, "reverse": true}, "axis": null}}},
{"data": {"name": "cells"}, "transform": [{"filter": "datum.construct === 'RZ' && datum.status === 'B'"}], "mark": {"type": "point", "filled": true, "opacity": 1, "fill": "#23509d", "strokeWidth": 0, "size": 400, "shape": "M -0.31 -0.925 L 0.31 -0.925 L 0.31 0.925 L -0.31 0.925 Z"},
 "encoding": {"x": {"field": "plant", "type": "quantitative", "scale": {"domain": [-13.944, 59.451], "nice": false, "zero": false}, "axis": null}, "y": {"field": "locus", "type": "quantitative", "scale": {"domain": [-3.409, 3.409], "nice": false, "zero": false, "reverse": true}, "axis": null}}},
{"data": {"name": "cells"}, "transform": [{"filter": "datum.construct === 'RZ' && datum.status === 'M'"}], "mark": {"type": "point", "filled": true, "opacity": 1, "fill": "#23509d", "strokeWidth": 0, "size": 400, "shape": "M -0.31 -0.925 L 0.31 -0.925 L 0.31 -0.03 L -0.31 -0.03 Z"},
 "encoding": {"x": {"field": "plant", "type": "quantitative", "scale": {"domain": [-13.944, 59.451], "nice": false, "zero": false}, "axis": null}, "y": {"field": "locus", "type": "quantitative", "scale": {"domain": [-3.409, 3.409], "nice": false, "zero": false, "reverse": true}, "axis": null}}},
{"data": {"name": "legend"}, "mark": {"type": "point", "filled": true, "opacity": 1, "fill": "#f1f1ef", "stroke": "#cdcdcd", "strokeWidth": 0.9, "size": 400, "shape": "M -0.36 -0.975 L 0.36 -0.975 L 0.36 0.975 L -0.36 0.975 Z"},
 "encoding": {"x": {"datum": 37.35, "type": "quantitative", "scale": {"domain": [-13.944, 59.451], "nice": false, "zero": false}, "axis": null}, "y": {"field": "rank", "type": "quantitative", "scale": {"domain": [-3.409, 3.409], "nice": false, "zero": false, "reverse": true}, "axis": null}}},
{"data": {"name": "legend"}, "transform": [{"filter": "datum.status === 'B'"}], "mark": {"type": "point", "filled": true, "opacity": 1, "fill": "#23509d", "strokeWidth": 0, "size": 400, "shape": "M -0.31 -0.925 L 0.31 -0.925 L 0.31 0.925 L -0.31 0.925 Z"},
 "encoding": {"x": {"datum": 37.35, "type": "quantitative", "scale": {"domain": [-13.944, 59.451], "nice": false, "zero": false}, "axis": null}, "y": {"field": "rank", "type": "quantitative", "scale": {"domain": [-3.409, 3.409], "nice": false, "zero": false, "reverse": true}, "axis": null}}},
{"data": {"name": "legend"}, "transform": [{"filter": "datum.status === 'M'"}], "mark": {"type": "point", "filled": true, "opacity": 1, "fill": "#23509d", "strokeWidth": 0, "size": 400, "shape": "M -0.31 -0.925 L 0.31 -0.925 L 0.31 -0.03 L -0.31 -0.03 Z"},
 "encoding": {"x": {"datum": 37.35, "type": "quantitative", "scale": {"domain": [-13.944, 59.451], "nice": false, "zero": false}, "axis": null}, "y": {"field": "rank", "type": "quantitative", "scale": {"domain": [-3.409, 3.409], "nice": false, "zero": false, "reverse": true}, "axis": null}}},
{"data": {"name": "legend"}, "mark": {"type": "text", "align": "left", "fontSize": 13.5},
 "encoding": {"x": {"datum": 38.33, "type": "quantitative", "scale": {"domain": [-13.944, 59.451], "nice": false, "zero": false}, "axis": null}, "y": {"field": "rank", "type": "quantitative", "scale": {"domain": [-3.409, 3.409], "nice": false, "zero": false, "reverse": true}, "axis": null}, "text": {"field": "label"}}},
{"data": {"name": "loci"}, "mark": {"type": "text", "align": "left", "fontStyle": "italic"},
 "encoding": {"x": {"datum": -13.116, "type": "quantitative", "scale": {"domain": [-13.944, 59.451], "nice": false, "zero": false}, "axis": null}, "y": {"field": "locus", "type": "quantitative", "scale": {"domain": [-3.409, 3.409], "nice": false, "zero": false, "reverse": true}, "axis": null}, "text": {"field": "gene"}}},
{"data": {"name": "loci"}, "transform": [{"filter": "datum.gene === 'OsPDS'"}], "mark": {"type": "text", "align": "left", "dx": 43.5},
 "encoding": {"x": {"datum": -13.116, "type": "quantitative", "scale": {"domain": [-13.944, 59.451], "nice": false, "zero": false}, "axis": null}, "y": {"field": "locus", "type": "quantitative", "scale": {"domain": [-3.409, 3.409], "nice": false, "zero": false, "reverse": true}, "axis": null}, "text": {"field": "guide"}}},
{"data": {"name": "loci"}, "transform": [{"filter": "datum.gene === 'OsDEP1'"}], "mark": {"type": "text", "align": "left", "dx": 50.6},
 "encoding": {"x": {"datum": -13.116, "type": "quantitative", "scale": {"domain": [-13.944, 59.451], "nice": false, "zero": false}, "axis": null}, "y": {"field": "locus", "type": "quantitative", "scale": {"domain": [-3.409, 3.409], "nice": false, "zero": false, "reverse": true}, "axis": null}, "text": {"field": "guide"}}},
{"data": {"name": "constructs"}, "transform": [{"filter": "datum.construct === 'RZ'"}], "mark": {"type": "text", "fontSize": 13.5},
 "encoding": {"x": {"datum": 17.22, "type": "quantitative", "scale": {"domain": [-13.944, 59.451], "nice": false, "zero": false}, "axis": null}, "y": {"datum": -2.2, "type": "quantitative", "scale": {"domain": [-3.409, 3.409], "nice": false, "zero": false, "reverse": true}, "axis": null}, "text": {"field": "title"}}},
{"data": {"values": [{}]}, "mark": {"type": "text", "align": "left", "text": "No. of edited sites:", "fontSize": 13.5},
 "encoding": {"x": {"datum": -13.116, "type": "quantitative", "scale": {"domain": [-13.944, 59.451], "nice": false, "zero": false}, "axis": null}, "y": {"datum": -1.09, "type": "quantitative", "scale": {"domain": [-3.409, 3.409], "nice": false, "zero": false, "reverse": true}, "axis": null}}},
{"data": {"values": [{}]}, "mark": {"type": "text", "align": "left", "text": "T0 plants"},
 "encoding": {"x": {"datum": -0.4, "type": "quantitative", "scale": {"domain": [-13.944, 59.451], "nice": false, "zero": false}, "axis": null}, "y": {"datum": 2.909, "type": "quantitative", "scale": {"domain": [-3.409, 3.409], "nice": false, "zero": false, "reverse": true}, "axis": null}}},
{"data": {"values": [{}]}, "mark": {"type": "text", "align": "left", "text": "n", "fontStyle": "italic", "dx": 57},
 "encoding": {"x": {"datum": -0.4, "type": "quantitative", "scale": {"domain": [-13.944, 59.451], "nice": false, "zero": false}, "axis": null}, "y": {"datum": 2.909, "type": "quantitative", "scale": {"domain": [-3.409, 3.409], "nice": false, "zero": false, "reverse": true}, "axis": null}}},
{"data": {"values": [{}]}, "mark": {"type": "text", "align": "left", "text": "=", "dx": 68},
 "encoding": {"x": {"datum": -0.4, "type": "quantitative", "scale": {"domain": [-13.944, 59.451], "nice": false, "zero": false}, "axis": null}, "y": {"datum": 2.909, "type": "quantitative", "scale": {"domain": [-3.409, 3.409], "nice": false, "zero": false, "reverse": true}, "axis": null}}},
{"data": {"name": "constructs"}, "transform": [{"filter": "datum.construct === 'RZ'"}], "mark": {"type": "text", "align": "left", "dx": 79},
 "encoding": {"x": {"datum": -0.4, "type": "quantitative", "scale": {"domain": [-13.944, 59.451], "nice": false, "zero": false}, "axis": null}, "y": {"datum": 2.909, "type": "quantitative", "scale": {"domain": [-3.409, 3.409], "nice": false, "zero": false, "reverse": true}, "axis": null}, "text": {"field": "plants", "type": "quantitative"}}},
{"data": {"name": "brackets"}, "transform": [{"filter": "datum.construct === 'RZ'"}], "mark": {"type": "rule", "stroke": "#f39a4c", "strokeWidth": 1.5, "xOffset": -2.5, "x2Offset": 2.5},
 "encoding": {"x": {"field": "start", "type": "quantitative", "scale": {"domain": [-13.944, 59.451], "nice": false, "zero": false}, "axis": null}, "x2": {"field": "end"}, "y": {"datum": -0.727, "type": "quantitative", "scale": {"domain": [-3.409, 3.409], "nice": false, "zero": false, "reverse": true}, "axis": null}}},
{"data": {"name": "brackets"}, "transform": [{"filter": "datum.construct === 'RZ'"}], "mark": {"type": "rule", "stroke": "#f39a4c", "strokeWidth": 1.5, "xOffset": -2.5},
 "encoding": {"x": {"field": "start", "type": "quantitative", "scale": {"domain": [-13.944, 59.451], "nice": false, "zero": false}, "axis": null}, "y": {"datum": -0.75, "type": "quantitative", "scale": {"domain": [-3.409, 3.409], "nice": false, "zero": false, "reverse": true}, "axis": null}, "y2": {"datum": -0.45}}},
{"data": {"name": "brackets"}, "transform": [{"filter": "datum.construct === 'RZ'"}], "mark": {"type": "rule", "stroke": "#f39a4c", "strokeWidth": 1.5, "xOffset": 2.5},
 "encoding": {"x": {"field": "end", "type": "quantitative", "scale": {"domain": [-13.944, 59.451], "nice": false, "zero": false}, "axis": null}, "y": {"datum": -0.75, "type": "quantitative", "scale": {"domain": [-3.409, 3.409], "nice": false, "zero": false, "reverse": true}, "axis": null}, "y2": {"datum": -0.45}}},
{"data": {"name": "brackets"}, "transform": [{"filter": "datum.construct === 'RZ' && datum.sites > 1"}, {"fold": ["start", "end"], "as": ["edge", "pos"]}], "mark": {"type": "text", "fontSize": 13.5},
 "encoding": {"x": {"field": "pos", "aggregate": "mean", "type": "quantitative", "scale": {"domain": [-13.944, 59.451], "nice": false, "zero": false}, "axis": null}, "y": {"datum": -1.273, "type": "quantitative", "scale": {"domain": [-3.409, 3.409], "nice": false, "zero": false, "reverse": true}, "axis": null}, "text": {"field": "label"}, "detail": {"field": "id"}}},
{"data": {"name": "brackets"}, "transform": [{"filter": "datum.construct === 'RZ' && datum.sites === 1"}, {"fold": ["start", "end"], "as": ["edge", "pos"]}], "mark": {"type": "text", "fontSize": 13.5, "angle": 300, "align": "left"},
 "encoding": {"x": {"field": "pos", "aggregate": "mean", "type": "quantitative", "scale": {"domain": [-13.944, 59.451], "nice": false, "zero": false}, "axis": null}, "y": {"datum": -1.25, "type": "quantitative", "scale": {"domain": [-3.409, 3.409], "nice": false, "zero": false, "reverse": true}, "axis": null}, "text": {"field": "label"}, "detail": {"field": "id"}}}
]
},
{
"width": 709, "height": 146,
"layer": [
{"data": {"name": "cells"}, "transform": [{"filter": "datum.construct === 'Csy4'"}], "mark": {"type": "point", "filled": true, "opacity": 1, "fill": "#f1f1ef", "stroke": "#cdcdcd", "strokeWidth": 0.9, "size": 400, "shape": "M -0.36 -0.975 L 0.36 -0.975 L 0.36 0.975 L -0.36 0.975 Z"},
 "encoding": {"x": {"field": "plant", "type": "quantitative", "scale": {"domain": [-13.944, 59.451], "nice": false, "zero": false}, "axis": null}, "y": {"field": "locus", "type": "quantitative", "scale": {"domain": [-3.409, 3.227], "nice": false, "zero": false, "reverse": true}, "axis": null}}},
{"data": {"name": "cells"}, "transform": [{"filter": "datum.construct === 'Csy4' && datum.status === 'B'"}], "mark": {"type": "point", "filled": true, "opacity": 1, "fill": "#23509d", "strokeWidth": 0, "size": 400, "shape": "M -0.31 -0.925 L 0.31 -0.925 L 0.31 0.925 L -0.31 0.925 Z"},
 "encoding": {"x": {"field": "plant", "type": "quantitative", "scale": {"domain": [-13.944, 59.451], "nice": false, "zero": false}, "axis": null}, "y": {"field": "locus", "type": "quantitative", "scale": {"domain": [-3.409, 3.227], "nice": false, "zero": false, "reverse": true}, "axis": null}}},
{"data": {"name": "cells"}, "transform": [{"filter": "datum.construct === 'Csy4' && datum.status === 'M'"}], "mark": {"type": "point", "filled": true, "opacity": 1, "fill": "#23509d", "strokeWidth": 0, "size": 400, "shape": "M -0.31 -0.925 L 0.31 -0.925 L 0.31 -0.03 L -0.31 -0.03 Z"},
 "encoding": {"x": {"field": "plant", "type": "quantitative", "scale": {"domain": [-13.944, 59.451], "nice": false, "zero": false}, "axis": null}, "y": {"field": "locus", "type": "quantitative", "scale": {"domain": [-3.409, 3.227], "nice": false, "zero": false, "reverse": true}, "axis": null}}},
{"data": {"name": "legend"}, "mark": {"type": "point", "filled": true, "opacity": 1, "fill": "#f1f1ef", "stroke": "#cdcdcd", "strokeWidth": 0.9, "size": 400, "shape": "M -0.36 -0.975 L 0.36 -0.975 L 0.36 0.975 L -0.36 0.975 Z"},
 "encoding": {"x": {"datum": 37.35, "type": "quantitative", "scale": {"domain": [-13.944, 59.451], "nice": false, "zero": false}, "axis": null}, "y": {"field": "rank", "type": "quantitative", "scale": {"domain": [-3.409, 3.227], "nice": false, "zero": false, "reverse": true}, "axis": null}}},
{"data": {"name": "legend"}, "transform": [{"filter": "datum.status === 'B'"}], "mark": {"type": "point", "filled": true, "opacity": 1, "fill": "#23509d", "strokeWidth": 0, "size": 400, "shape": "M -0.31 -0.925 L 0.31 -0.925 L 0.31 0.925 L -0.31 0.925 Z"},
 "encoding": {"x": {"datum": 37.35, "type": "quantitative", "scale": {"domain": [-13.944, 59.451], "nice": false, "zero": false}, "axis": null}, "y": {"field": "rank", "type": "quantitative", "scale": {"domain": [-3.409, 3.227], "nice": false, "zero": false, "reverse": true}, "axis": null}}},
{"data": {"name": "legend"}, "transform": [{"filter": "datum.status === 'M'"}], "mark": {"type": "point", "filled": true, "opacity": 1, "fill": "#23509d", "strokeWidth": 0, "size": 400, "shape": "M -0.31 -0.925 L 0.31 -0.925 L 0.31 -0.03 L -0.31 -0.03 Z"},
 "encoding": {"x": {"datum": 37.35, "type": "quantitative", "scale": {"domain": [-13.944, 59.451], "nice": false, "zero": false}, "axis": null}, "y": {"field": "rank", "type": "quantitative", "scale": {"domain": [-3.409, 3.227], "nice": false, "zero": false, "reverse": true}, "axis": null}}},
{"data": {"name": "legend"}, "mark": {"type": "text", "align": "left", "fontSize": 13.5},
 "encoding": {"x": {"datum": 38.33, "type": "quantitative", "scale": {"domain": [-13.944, 59.451], "nice": false, "zero": false}, "axis": null}, "y": {"field": "rank", "type": "quantitative", "scale": {"domain": [-3.409, 3.227], "nice": false, "zero": false, "reverse": true}, "axis": null}, "text": {"field": "label"}}},
{"data": {"name": "loci"}, "mark": {"type": "text", "align": "left", "fontStyle": "italic"},
 "encoding": {"x": {"datum": -13.116, "type": "quantitative", "scale": {"domain": [-13.944, 59.451], "nice": false, "zero": false}, "axis": null}, "y": {"field": "locus", "type": "quantitative", "scale": {"domain": [-3.409, 3.227], "nice": false, "zero": false, "reverse": true}, "axis": null}, "text": {"field": "gene"}}},
{"data": {"name": "loci"}, "transform": [{"filter": "datum.gene === 'OsPDS'"}], "mark": {"type": "text", "align": "left", "dx": 43.5},
 "encoding": {"x": {"datum": -13.116, "type": "quantitative", "scale": {"domain": [-13.944, 59.451], "nice": false, "zero": false}, "axis": null}, "y": {"field": "locus", "type": "quantitative", "scale": {"domain": [-3.409, 3.227], "nice": false, "zero": false, "reverse": true}, "axis": null}, "text": {"field": "guide"}}},
{"data": {"name": "loci"}, "transform": [{"filter": "datum.gene === 'OsDEP1'"}], "mark": {"type": "text", "align": "left", "dx": 50.6},
 "encoding": {"x": {"datum": -13.116, "type": "quantitative", "scale": {"domain": [-13.944, 59.451], "nice": false, "zero": false}, "axis": null}, "y": {"field": "locus", "type": "quantitative", "scale": {"domain": [-3.409, 3.227], "nice": false, "zero": false, "reverse": true}, "axis": null}, "text": {"field": "guide"}}},
{"data": {"name": "constructs"}, "transform": [{"filter": "datum.construct === 'Csy4'"}], "mark": {"type": "text", "fontSize": 13.5},
 "encoding": {"x": {"datum": 15.77, "type": "quantitative", "scale": {"domain": [-13.944, 59.451], "nice": false, "zero": false}, "axis": null}, "y": {"datum": -2.2, "type": "quantitative", "scale": {"domain": [-3.409, 3.227], "nice": false, "zero": false, "reverse": true}, "axis": null}, "text": {"field": "title"}}},
{"data": {"values": [{}]}, "mark": {"type": "text", "align": "left", "text": "No. of edited sites:", "fontSize": 13.5},
 "encoding": {"x": {"datum": -13.116, "type": "quantitative", "scale": {"domain": [-13.944, 59.451], "nice": false, "zero": false}, "axis": null}, "y": {"datum": -1.09, "type": "quantitative", "scale": {"domain": [-3.409, 3.227], "nice": false, "zero": false, "reverse": true}, "axis": null}}},
{"data": {"values": [{}]}, "mark": {"type": "text", "align": "left", "text": "T0 plants"},
 "encoding": {"x": {"datum": -0.4, "type": "quantitative", "scale": {"domain": [-13.944, 59.451], "nice": false, "zero": false}, "axis": null}, "y": {"datum": 2.909, "type": "quantitative", "scale": {"domain": [-3.409, 3.227], "nice": false, "zero": false, "reverse": true}, "axis": null}}},
{"data": {"values": [{}]}, "mark": {"type": "text", "align": "left", "text": "n", "fontStyle": "italic", "dx": 57},
 "encoding": {"x": {"datum": -0.4, "type": "quantitative", "scale": {"domain": [-13.944, 59.451], "nice": false, "zero": false}, "axis": null}, "y": {"datum": 2.909, "type": "quantitative", "scale": {"domain": [-3.409, 3.227], "nice": false, "zero": false, "reverse": true}, "axis": null}}},
{"data": {"values": [{}]}, "mark": {"type": "text", "align": "left", "text": "=", "dx": 68},
 "encoding": {"x": {"datum": -0.4, "type": "quantitative", "scale": {"domain": [-13.944, 59.451], "nice": false, "zero": false}, "axis": null}, "y": {"datum": 2.909, "type": "quantitative", "scale": {"domain": [-3.409, 3.227], "nice": false, "zero": false, "reverse": true}, "axis": null}}},
{"data": {"name": "constructs"}, "transform": [{"filter": "datum.construct === 'Csy4'"}], "mark": {"type": "text", "align": "left", "dx": 79},
 "encoding": {"x": {"datum": -0.4, "type": "quantitative", "scale": {"domain": [-13.944, 59.451], "nice": false, "zero": false}, "axis": null}, "y": {"datum": 2.909, "type": "quantitative", "scale": {"domain": [-3.409, 3.227], "nice": false, "zero": false, "reverse": true}, "axis": null}, "text": {"field": "plants", "type": "quantitative"}}},
{"data": {"name": "brackets"}, "transform": [{"filter": "datum.construct === 'Csy4'"}], "mark": {"type": "rule", "stroke": "#f39a4c", "strokeWidth": 1.5, "xOffset": -2.5, "x2Offset": 2.5},
 "encoding": {"x": {"field": "start", "type": "quantitative", "scale": {"domain": [-13.944, 59.451], "nice": false, "zero": false}, "axis": null}, "x2": {"field": "end"}, "y": {"datum": -0.727, "type": "quantitative", "scale": {"domain": [-3.409, 3.227], "nice": false, "zero": false, "reverse": true}, "axis": null}}},
{"data": {"name": "brackets"}, "transform": [{"filter": "datum.construct === 'Csy4'"}], "mark": {"type": "rule", "stroke": "#f39a4c", "strokeWidth": 1.5, "xOffset": -2.5},
 "encoding": {"x": {"field": "start", "type": "quantitative", "scale": {"domain": [-13.944, 59.451], "nice": false, "zero": false}, "axis": null}, "y": {"datum": -0.75, "type": "quantitative", "scale": {"domain": [-3.409, 3.227], "nice": false, "zero": false, "reverse": true}, "axis": null}, "y2": {"datum": -0.45}}},
{"data": {"name": "brackets"}, "transform": [{"filter": "datum.construct === 'Csy4'"}], "mark": {"type": "rule", "stroke": "#f39a4c", "strokeWidth": 1.5, "xOffset": 2.5},
 "encoding": {"x": {"field": "end", "type": "quantitative", "scale": {"domain": [-13.944, 59.451], "nice": false, "zero": false}, "axis": null}, "y": {"datum": -0.75, "type": "quantitative", "scale": {"domain": [-3.409, 3.227], "nice": false, "zero": false, "reverse": true}, "axis": null}, "y2": {"datum": -0.45}}},
{"data": {"name": "brackets"}, "transform": [{"filter": "datum.construct === 'Csy4' && datum.sites > 1"}, {"fold": ["start", "end"], "as": ["edge", "pos"]}], "mark": {"type": "text", "fontSize": 13.5},
 "encoding": {"x": {"field": "pos", "aggregate": "mean", "type": "quantitative", "scale": {"domain": [-13.944, 59.451], "nice": false, "zero": false}, "axis": null}, "y": {"datum": -1.273, "type": "quantitative", "scale": {"domain": [-3.409, 3.227], "nice": false, "zero": false, "reverse": true}, "axis": null}, "text": {"field": "label"}, "detail": {"field": "id"}}},
{"data": {"name": "brackets"}, "transform": [{"filter": "datum.construct === 'Csy4' && datum.sites === 1"}, {"fold": ["start", "end"], "as": ["edge", "pos"]}], "mark": {"type": "text", "fontSize": 13.5, "angle": 300, "align": "left"},
 "encoding": {"x": {"field": "pos", "aggregate": "mean", "type": "quantitative", "scale": {"domain": [-13.944, 59.451], "nice": false, "zero": false}, "axis": null}, "y": {"datum": -1.25, "type": "quantitative", "scale": {"domain": [-3.409, 3.227], "nice": false, "zero": false, "reverse": true}, "axis": null}, "text": {"field": "label"}, "detail": {"field": "id"}}}
]
},
{
"width": 709, "height": 152,
"layer": [
{"data": {"name": "cells"}, "transform": [{"filter": "datum.construct === 'tRNA'"}], "mark": {"type": "point", "filled": true, "opacity": 1, "fill": "#f1f1ef", "stroke": "#cdcdcd", "strokeWidth": 0.9, "size": 400, "shape": "M -0.36 -0.975 L 0.36 -0.975 L 0.36 0.975 L -0.36 0.975 Z"},
 "encoding": {"x": {"field": "plant", "type": "quantitative", "scale": {"domain": [-13.944, 59.451], "nice": false, "zero": false}, "axis": null}, "y": {"field": "locus", "type": "quantitative", "scale": {"domain": [-3.409, 3.5], "nice": false, "zero": false, "reverse": true}, "axis": null}}},
{"data": {"name": "cells"}, "transform": [{"filter": "datum.construct === 'tRNA' && datum.status === 'B'"}], "mark": {"type": "point", "filled": true, "opacity": 1, "fill": "#23509d", "strokeWidth": 0, "size": 400, "shape": "M -0.31 -0.925 L 0.31 -0.925 L 0.31 0.925 L -0.31 0.925 Z"},
 "encoding": {"x": {"field": "plant", "type": "quantitative", "scale": {"domain": [-13.944, 59.451], "nice": false, "zero": false}, "axis": null}, "y": {"field": "locus", "type": "quantitative", "scale": {"domain": [-3.409, 3.5], "nice": false, "zero": false, "reverse": true}, "axis": null}}},
{"data": {"name": "cells"}, "transform": [{"filter": "datum.construct === 'tRNA' && datum.status === 'M'"}], "mark": {"type": "point", "filled": true, "opacity": 1, "fill": "#23509d", "strokeWidth": 0, "size": 400, "shape": "M -0.31 -0.925 L 0.31 -0.925 L 0.31 -0.03 L -0.31 -0.03 Z"},
 "encoding": {"x": {"field": "plant", "type": "quantitative", "scale": {"domain": [-13.944, 59.451], "nice": false, "zero": false}, "axis": null}, "y": {"field": "locus", "type": "quantitative", "scale": {"domain": [-3.409, 3.5], "nice": false, "zero": false, "reverse": true}, "axis": null}}},
{"data": {"name": "legend"}, "mark": {"type": "point", "filled": true, "opacity": 1, "fill": "#f1f1ef", "stroke": "#cdcdcd", "strokeWidth": 0.9, "size": 400, "shape": "M -0.36 -0.975 L 0.36 -0.975 L 0.36 0.975 L -0.36 0.975 Z"},
 "encoding": {"x": {"datum": 37.35, "type": "quantitative", "scale": {"domain": [-13.944, 59.451], "nice": false, "zero": false}, "axis": null}, "y": {"field": "rank", "type": "quantitative", "scale": {"domain": [-3.409, 3.5], "nice": false, "zero": false, "reverse": true}, "axis": null}}},
{"data": {"name": "legend"}, "transform": [{"filter": "datum.status === 'B'"}], "mark": {"type": "point", "filled": true, "opacity": 1, "fill": "#23509d", "strokeWidth": 0, "size": 400, "shape": "M -0.31 -0.925 L 0.31 -0.925 L 0.31 0.925 L -0.31 0.925 Z"},
 "encoding": {"x": {"datum": 37.35, "type": "quantitative", "scale": {"domain": [-13.944, 59.451], "nice": false, "zero": false}, "axis": null}, "y": {"field": "rank", "type": "quantitative", "scale": {"domain": [-3.409, 3.5], "nice": false, "zero": false, "reverse": true}, "axis": null}}},
{"data": {"name": "legend"}, "transform": [{"filter": "datum.status === 'M'"}], "mark": {"type": "point", "filled": true, "opacity": 1, "fill": "#23509d", "strokeWidth": 0, "size": 400, "shape": "M -0.31 -0.925 L 0.31 -0.925 L 0.31 -0.03 L -0.31 -0.03 Z"},
 "encoding": {"x": {"datum": 37.35, "type": "quantitative", "scale": {"domain": [-13.944, 59.451], "nice": false, "zero": false}, "axis": null}, "y": {"field": "rank", "type": "quantitative", "scale": {"domain": [-3.409, 3.5], "nice": false, "zero": false, "reverse": true}, "axis": null}}},
{"data": {"name": "legend"}, "mark": {"type": "text", "align": "left", "fontSize": 13.5},
 "encoding": {"x": {"datum": 38.33, "type": "quantitative", "scale": {"domain": [-13.944, 59.451], "nice": false, "zero": false}, "axis": null}, "y": {"field": "rank", "type": "quantitative", "scale": {"domain": [-3.409, 3.5], "nice": false, "zero": false, "reverse": true}, "axis": null}, "text": {"field": "label"}}},
{"data": {"name": "loci"}, "mark": {"type": "text", "align": "left", "fontStyle": "italic"},
 "encoding": {"x": {"datum": -13.116, "type": "quantitative", "scale": {"domain": [-13.944, 59.451], "nice": false, "zero": false}, "axis": null}, "y": {"field": "locus", "type": "quantitative", "scale": {"domain": [-3.409, 3.5], "nice": false, "zero": false, "reverse": true}, "axis": null}, "text": {"field": "gene"}}},
{"data": {"name": "loci"}, "transform": [{"filter": "datum.gene === 'OsPDS'"}], "mark": {"type": "text", "align": "left", "dx": 43.5},
 "encoding": {"x": {"datum": -13.116, "type": "quantitative", "scale": {"domain": [-13.944, 59.451], "nice": false, "zero": false}, "axis": null}, "y": {"field": "locus", "type": "quantitative", "scale": {"domain": [-3.409, 3.5], "nice": false, "zero": false, "reverse": true}, "axis": null}, "text": {"field": "guide"}}},
{"data": {"name": "loci"}, "transform": [{"filter": "datum.gene === 'OsDEP1'"}], "mark": {"type": "text", "align": "left", "dx": 50.6},
 "encoding": {"x": {"datum": -13.116, "type": "quantitative", "scale": {"domain": [-13.944, 59.451], "nice": false, "zero": false}, "axis": null}, "y": {"field": "locus", "type": "quantitative", "scale": {"domain": [-3.409, 3.5], "nice": false, "zero": false, "reverse": true}, "axis": null}, "text": {"field": "guide"}}},
{"data": {"name": "constructs"}, "transform": [{"filter": "datum.construct === 'tRNA'"}], "mark": {"type": "text", "fontSize": 13.5},
 "encoding": {"x": {"datum": 17.63, "type": "quantitative", "scale": {"domain": [-13.944, 59.451], "nice": false, "zero": false}, "axis": null}, "y": {"datum": -2.2, "type": "quantitative", "scale": {"domain": [-3.409, 3.5], "nice": false, "zero": false, "reverse": true}, "axis": null}, "text": {"field": "title"}}},
{"data": {"values": [{}]}, "mark": {"type": "text", "align": "left", "text": "No. of edited sites:", "fontSize": 13.5},
 "encoding": {"x": {"datum": -13.116, "type": "quantitative", "scale": {"domain": [-13.944, 59.451], "nice": false, "zero": false}, "axis": null}, "y": {"datum": -1.09, "type": "quantitative", "scale": {"domain": [-3.409, 3.5], "nice": false, "zero": false, "reverse": true}, "axis": null}}},
{"data": {"values": [{}]}, "mark": {"type": "text", "align": "left", "text": "T0 plants"},
 "encoding": {"x": {"datum": -0.4, "type": "quantitative", "scale": {"domain": [-13.944, 59.451], "nice": false, "zero": false}, "axis": null}, "y": {"datum": 2.909, "type": "quantitative", "scale": {"domain": [-3.409, 3.5], "nice": false, "zero": false, "reverse": true}, "axis": null}}},
{"data": {"values": [{}]}, "mark": {"type": "text", "align": "left", "text": "n", "fontStyle": "italic", "dx": 57},
 "encoding": {"x": {"datum": -0.4, "type": "quantitative", "scale": {"domain": [-13.944, 59.451], "nice": false, "zero": false}, "axis": null}, "y": {"datum": 2.909, "type": "quantitative", "scale": {"domain": [-3.409, 3.5], "nice": false, "zero": false, "reverse": true}, "axis": null}}},
{"data": {"values": [{}]}, "mark": {"type": "text", "align": "left", "text": "=", "dx": 68},
 "encoding": {"x": {"datum": -0.4, "type": "quantitative", "scale": {"domain": [-13.944, 59.451], "nice": false, "zero": false}, "axis": null}, "y": {"datum": 2.909, "type": "quantitative", "scale": {"domain": [-3.409, 3.5], "nice": false, "zero": false, "reverse": true}, "axis": null}}},
{"data": {"name": "constructs"}, "transform": [{"filter": "datum.construct === 'tRNA'"}], "mark": {"type": "text", "align": "left", "dx": 79},
 "encoding": {"x": {"datum": -0.4, "type": "quantitative", "scale": {"domain": [-13.944, 59.451], "nice": false, "zero": false}, "axis": null}, "y": {"datum": 2.909, "type": "quantitative", "scale": {"domain": [-3.409, 3.5], "nice": false, "zero": false, "reverse": true}, "axis": null}, "text": {"field": "plants", "type": "quantitative"}}},
{"data": {"name": "brackets"}, "transform": [{"filter": "datum.construct === 'tRNA'"}], "mark": {"type": "rule", "stroke": "#f39a4c", "strokeWidth": 1.5, "xOffset": -2.5, "x2Offset": 2.5},
 "encoding": {"x": {"field": "start", "type": "quantitative", "scale": {"domain": [-13.944, 59.451], "nice": false, "zero": false}, "axis": null}, "x2": {"field": "end"}, "y": {"datum": -0.727, "type": "quantitative", "scale": {"domain": [-3.409, 3.5], "nice": false, "zero": false, "reverse": true}, "axis": null}}},
{"data": {"name": "brackets"}, "transform": [{"filter": "datum.construct === 'tRNA'"}], "mark": {"type": "rule", "stroke": "#f39a4c", "strokeWidth": 1.5, "xOffset": -2.5},
 "encoding": {"x": {"field": "start", "type": "quantitative", "scale": {"domain": [-13.944, 59.451], "nice": false, "zero": false}, "axis": null}, "y": {"datum": -0.75, "type": "quantitative", "scale": {"domain": [-3.409, 3.5], "nice": false, "zero": false, "reverse": true}, "axis": null}, "y2": {"datum": -0.45}}},
{"data": {"name": "brackets"}, "transform": [{"filter": "datum.construct === 'tRNA'"}], "mark": {"type": "rule", "stroke": "#f39a4c", "strokeWidth": 1.5, "xOffset": 2.5},
 "encoding": {"x": {"field": "end", "type": "quantitative", "scale": {"domain": [-13.944, 59.451], "nice": false, "zero": false}, "axis": null}, "y": {"datum": -0.75, "type": "quantitative", "scale": {"domain": [-3.409, 3.5], "nice": false, "zero": false, "reverse": true}, "axis": null}, "y2": {"datum": -0.45}}},
{"data": {"name": "brackets"}, "transform": [{"filter": "datum.construct === 'tRNA' && datum.sites > 1"}, {"fold": ["start", "end"], "as": ["edge", "pos"]}], "mark": {"type": "text", "fontSize": 13.5},
 "encoding": {"x": {"field": "pos", "aggregate": "mean", "type": "quantitative", "scale": {"domain": [-13.944, 59.451], "nice": false, "zero": false}, "axis": null}, "y": {"datum": -1.273, "type": "quantitative", "scale": {"domain": [-3.409, 3.5], "nice": false, "zero": false, "reverse": true}, "axis": null}, "text": {"field": "label"}, "detail": {"field": "id"}}},
{"data": {"name": "brackets"}, "transform": [{"filter": "datum.construct === 'tRNA' && datum.sites === 1"}, {"fold": ["start", "end"], "as": ["edge", "pos"]}], "mark": {"type": "text", "fontSize": 13.5, "angle": 300, "align": "left"},
 "encoding": {"x": {"field": "pos", "aggregate": "mean", "type": "quantitative", "scale": {"domain": [-13.944, 59.451], "nice": false, "zero": false}, "axis": null}, "y": {"datum": -1.25, "type": "quantitative", "scale": {"domain": [-3.409, 3.5], "nice": false, "zero": false, "reverse": true}, "axis": null}, "text": {"field": "label"}, "detail": {"field": "id"}}}
]
}
]
}
